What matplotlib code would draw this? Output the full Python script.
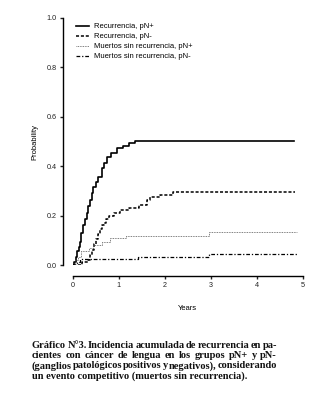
import matplotlib
matplotlib.use("Agg")
import matplotlib.pyplot as plt

# Cumulative incidence curves
t_rec_pos = [0, 0.03, 0.07, 0.10, 0.13, 0.16, 0.19, 0.215, 0.26, 0.30, 0.34, 0.375, 0.41, 0.45,
             0.50, 0.56, 0.63, 0.68, 0.75, 0.825, 0.97, 1.10, 1.23, 1.35, 4.8]
p_rec_pos = [0, 0.012, 0.034, 0.055, 0.074, 0.095, 0.13, 0.162, 0.185, 0.21, 0.237, 0.263, 0.29, 0.317,
             0.337, 0.357, 0.393, 0.411, 0.436, 0.452, 0.472, 0.483, 0.493, 0.503, 0.503]

t_rec_neg = [0, 0.20, 0.33, 0.38, 0.42, 0.46, 0.50, 0.55, 0.60, 0.64, 0.68, 0.72, 0.795, 0.90,
             1.03, 1.23, 1.45, 1.61, 1.68, 1.90, 2.18, 4.83]
p_rec_neg = [0, 0.012, 0.02, 0.04, 0.06, 0.085, 0.105, 0.125, 0.145, 0.162, 0.172, 0.185, 0.20, 0.209,
             0.223, 0.232, 0.243, 0.263, 0.274, 0.283, 0.294, 0.294]

t_dead_pos = [0, 0.05, 0.12, 0.18, 0.36, 0.45, 0.63, 0.81, 1.16, 2.95, 4.86]
p_dead_pos = [0, 0.02, 0.034, 0.055, 0.068, 0.081, 0.094, 0.108, 0.116, 0.133, 0.133]

t_dead_neg = [0, 0.10, 0.16, 1.42, 2.95, 4.86]
p_dead_neg = [0, 0.011, 0.025, 0.034, 0.046, 0.046]

labels = ["Recurrencia, pN+", "Recurrencia, pN-",
          "Muertos sin recurrencia, pN+", "Muertos sin recurrencia, pN-"]

caption = ["Gráfico N°3. Incidencia acumulada de recurrencia en pa-",
           "cientes con cáncer de lengua en los grupos pN+ y pN-",
           "(ganglios patológicos positivos y negativos), considerando",
           "un evento competitivo (muertos sin recurrencia)."]

plt.rcParams['font.family'] = ['Liberation Sans', 'DejaVu Sans']

W, H = 329, 400
fig = plt.figure(figsize=(W / 100, H / 100), dpi=100)
ax = fig.add_axes([72.7 / W, 1 - 265 / H, 230.3 / W, 247 / H])

ax.step(t_rec_pos, p_rec_pos, where='post', color='black', lw=1.2, label=labels[0])
ax.step(t_rec_neg, p_rec_neg, where='post', color='black', lw=1.1, ls=(0, (2, 1.2)), label=labels[1])
ax.step(t_dead_pos, p_dead_pos, where='post', color='#555555', lw=0.6, ls=(0, (1, 1)), label=labels[2])
ax.step(t_dead_neg, p_dead_neg, where='post', color='black', lw=0.9, ls=(0, (3, 1.5, 1, 1.5)), label=labels[3])

ax.set_xlim(0, 5)
ax.set_ylim(0, 1.0)
ax.set_xticks([0, 1, 2, 3, 4, 5])
ax.set_yticks([0, 0.2, 0.4, 0.6, 0.8, 1.0])
ax.set_yticklabels(["0.0", "0.2", "0.4", "0.6", "0.8", "1.0"])
ax.spines['top'].set_visible(False)
ax.spines['right'].set_visible(False)
ax.spines['left'].set_position(('outward', 7))
ax.spines['bottom'].set_position(('outward', 8))
for s in ['left', 'bottom']:
    ax.spines[s].set_linewidth(1.0)
ax.tick_params(direction='out', length=2.5, width=1.0, labelsize=5.2, pad=2, colors='#222222')
ax.set_xlabel("Years", fontsize=5.5, labelpad=11)
ax.set_ylabel("Probability", fontsize=5.5, labelpad=6)

fig.legend(loc='upper left', bbox_to_anchor=(76 / W, 1 - 23 / H), frameon=False,
           fontsize=5.5, handlelength=1.7, handletextpad=0.7, labelspacing=0.35,
           borderpad=0, borderaxespad=0)

# Justified caption, word by word
renderer = fig.canvas.get_renderer()
x_left, x_right = 32, 277
ys = [346, 356, 366, 376]
cap_kw = dict(family='Liberation Serif', weight='bold', fontsize=7.5, va='center', color='#111111')
for i, line in enumerate(caption):
    words = line.split(' ')
    if i == len(caption) - 1:
        fig.text(x_left / W, 1 - ys[i] / H, line, ha='left', **cap_kw)
        continue
    txts = [fig.text(0, 1 - ys[i] / H, w, ha='left', **cap_kw) for w in words]
    widths = [t.get_window_extent(renderer).width for t in txts]
    gap = (x_right - x_left - sum(widths)) / (len(words) - 1)
    x = x_left
    for t, w in zip(txts, widths):
        t.set_x(x / W)
        x += w + gap

fig.savefig("out.png", dpi=100)
